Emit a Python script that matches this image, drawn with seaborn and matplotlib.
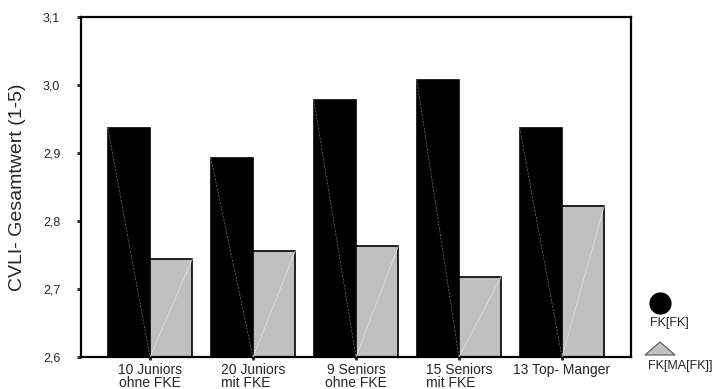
import numpy as np
import pandas as pd
import matplotlib.pyplot as plt
import seaborn as sns
from matplotlib.lines import Line2D
from matplotlib.patches import Polygon

# groups on the x axis
groups = ["10 Juniors\nohne FKE", "20 Juniors\nmit FKE", "9 Seniors\nohne FKE",
          "15 Seniors\nmit FKE", "13 Top- Manger"]
# two series
fk_fk = [2.937, 2.893, 2.978, 3.008, 2.937]
fk_ma_fk = [2.744, 2.756, 2.763, 2.718, 2.822]
series_names = ["FK[FK]", "FK[MA[FK]]"]
y_ticks = [2.6, 2.7, 2.8, 2.9, 3.0, 3.1]

df = pd.DataFrame({
    "group": groups * 2,
    "value": fk_fk + fk_ma_fk,
    "series": [series_names[0]] * len(groups) + [series_names[1]] * len(groups),
})

sns.set_theme(style="white")
plt.rcParams["font.family"] = ["Liberation Sans", "DejaVu Sans"]

fig = plt.figure(figsize=(7.17, 3.89), dpi=100)
ax = fig.add_axes([0.113, 0.082, 0.767, 0.874])

sns.barplot(data=df, x="group", y="value", hue="series", order=groups,
            hue_order=series_names, palette=["#000000", "#c0c0c0"],
            width=0.82, gap=0, edgecolor="black", linewidth=1.2,
            legend=False, ax=ax)

# faint diagonal strokes inside each bar (taken from the bar patches)
for p in ax.patches:
    x0, w, h = p.get_x(), p.get_width(), p.get_height()
    if h == 0:
        continue
    top = p.get_y() + h
    if p.get_facecolor()[0] < 0.5:
        ax.plot([x0, x0 + w], [top, 2.6], color="#777777", lw=0.5,
                ls=(0, (3, 2)), zorder=3)
    else:
        ax.plot([x0, x0 + w], [2.6, top], color="#e4e4e4", lw=0.5, zorder=3)

ax.set_ylim(2.6, 3.1)
ax.set_xlim(-0.67, 4.67)
ax.set_yticks(y_ticks)
ax.set_yticklabels([f"{t:.1f}".replace(".", ",") for t in y_ticks], fontsize=9)
ax.tick_params(axis="y", direction="out", length=3, width=2, pad=12, left=True)
ax.tick_params(axis="x", direction="out", length=2, width=2, pad=2, bottom=True,
               labelsize=10)
for lab in ax.get_xticklabels():
    if "mit" in lab.get_text():
        lab.set_multialignment("left")
    lab.set_linespacing(0.9)

for s in ax.spines.values():
    s.set_visible(True)
    s.set_color("black")
    s.set_linewidth(1.6)

ax.set_xlabel("")
ax.set_ylabel("CVLI- Gesamtwert (1-5)", fontsize=14, labelpad=12)

# legend drawn as in the original: marker above its label
fig.add_artist(Line2D([0.9205], [0.221], marker="o", markersize=15,
                      color="black", transform=fig.transFigure))
fig.text(0.934, 0.170, series_names[0], fontsize=9, ha="center", va="center")
tri = Polygon([[645 / 717, 1 - 355 / 389], [675 / 717, 1 - 355 / 389],
               [660 / 717, 1 - 342 / 389]], closed=True, facecolor="#c0c0c0",
              edgecolor="#555555", lw=0.8, transform=fig.transFigure)
fig.add_artist(tri)
fig.text(0.949, 0.059, series_names[1], fontsize=9, ha="center", va="center")

fig.savefig("out.png", dpi=100)
